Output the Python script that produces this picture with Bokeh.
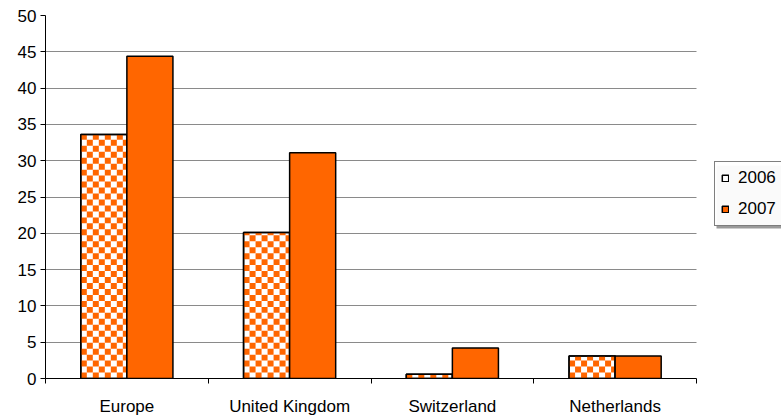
import numpy as np
from bokeh.plotting import figure
from bokeh.models import (ColumnDataSource, FixedTicker, Range1d, Legend,
                          LegendItem, BoxAnnotation)
from bokeh.embed import file_html
from bokeh.resources import INLINE

# Values per market, two years
categories = ["Europe", "United Kingdom", "Switzerland", "Netherlands"]
values_2006 = [33.6, 20.1, 0.6, 3.1]
values_2007 = [44.4, 31.1, 4.2, 3.1]
series_names = ["2006", "2007"]
y_ticks = [0, 5, 10, 15, 20, 25, 30, 35, 40, 45, 50]

ORANGE = "#FF6600"
FONT = "Liberation Sans"
FONT_SIZE = "17px"
BAR_W = 0.283

W, H = 781, 418
BL, BT, BB = 45, 15, 38
PLOT_W = 651            # width taken by the four category slots
Y_MAX = 50
n = len(categories)

# the frame runs to the right edge so the legend can sit beside the bars;
# the extra x span past the last category stays empty
frame_w = W - BL
frame_h = H - BT - BB
x_end = n * frame_w / PLOT_W

centers = np.arange(n) + 0.5
x06 = centers - BAR_W / 2
x07 = centers + BAR_W / 2
src_06 = ColumnDataSource(dict(x=x06, top=values_2006))
src_07 = ColumnDataSource(dict(x=x07, top=values_2007))

p = figure(width=W, height=H, output_backend="svg", toolbar_location=None,
           x_range=Range1d(0, x_end), y_range=Range1d(0, Y_MAX),
           min_border_left=BL, min_border_right=0, min_border_top=BT,
           min_border_bottom=BB)
p.outline_line_color = None
p.background_fill_color = "white"
p.border_fill_color = "white"

# 2006: white bar body with an orange checkerboard texture of ~6px cells
r06 = p.vbar(x="x", top="top", width=BAR_W, bottom=0, source=src_06,
             fill_color="white", line_color="black", line_width=1.5)

cell_px = 6.0
dx = cell_px * x_end / frame_w
dy = cell_px * Y_MAX / frame_h
cl, cr, cb, ct = [], [], [], []
for xc, top in zip(x06, values_2006):
    left, right = xc - BAR_W / 2, xc + BAR_W / 2
    ncol = int(np.ceil((right - left) / dx))
    nrow = int(np.ceil(top / dy))
    for i in range(ncol):
        for j in range(nrow):
            if (i + j) % 2 == 0:
                cl.append(left + i * dx)
                cr.append(min(left + (i + 1) * dx, right))
                cb.append(j * dy)
                ct.append(min((j + 1) * dy, top))
p.quad(left=cl, right=cr, bottom=cb, top=ct, fill_color=ORANGE,
       line_color=None)
# outline redrawn above the texture
p.vbar(x="x", top="top", width=BAR_W, bottom=0, source=src_06,
       fill_alpha=0, line_color="black", line_width=1.5)

r07 = p.vbar(x="x", top="top", width=BAR_W, bottom=0, source=src_07,
             fill_color=ORANGE, line_color="black", line_width=1.5)

# x axis: labels at category centres, ticks on category boundaries
xa = p.xaxis[0]
xa.bounds = (0, n)
xa.ticker = FixedTicker(ticks=list(centers), minor_ticks=list(range(n + 1)))
xa.major_label_overrides = {float(c): name for c, name in zip(centers, categories)}
xa.major_tick_line_color = None
xa.major_tick_out = 0
xa.major_tick_in = 0
xa.minor_tick_line_color = "black"
xa.minor_tick_out = 5
xa.minor_tick_in = 0
xa.major_label_standoff = 13
xa.axis_line_color = "black"

ya = p.yaxis[0]
ya.ticker = FixedTicker(ticks=y_ticks, minor_ticks=[])
ya.major_tick_out = 5
ya.major_tick_in = 0
ya.major_tick_line_color = "black"
ya.axis_line_color = "black"
ya.major_label_standoff = 4

for ax in (xa, ya):
    ax.major_label_text_font = FONT
    ax.major_label_text_font_size = FONT_SIZE
    ax.major_label_text_color = "black"

p.xgrid.grid_line_color = None
p.ygrid.grid_line_color = "#8a8a8a"
p.ygrid.grid_line_width = 1
p.ygrid.cross_bounds = (0, n)

# legend box, with a thin grey drop shadow behind it
LEG_X, LEG_Y, LEG_W, LEG_H = 669, 152, 67, 63
shadow = BoxAnnotation(left=LEG_X + 2, right=LEG_X + LEG_W + 2,
                       bottom=LEG_Y - 2, top=LEG_Y + LEG_H - 2,
                       left_units="screen", right_units="screen",
                       bottom_units="screen", top_units="screen",
                       fill_color="#9a9a9a", fill_alpha=1.0, line_color=None)
p.add_layout(shadow)

legend = Legend(items=[LegendItem(label=series_names[0], renderers=[r06]),
                       LegendItem(label=series_names[1], renderers=[r07])],
                location=(LEG_X, LEG_Y), orientation="vertical",
                glyph_width=8, glyph_height=8, label_text_font=FONT,
                label_text_font_size=FONT_SIZE, label_text_color="black",
                label_standoff=9, spacing=11, padding=6, margin=0,
                label_height=20,
                border_line_color="black", border_line_width=1,
                background_fill_color="white")
p.add_layout(legend, "center")

open("out.html", "w").write(file_html(p, INLINE))
